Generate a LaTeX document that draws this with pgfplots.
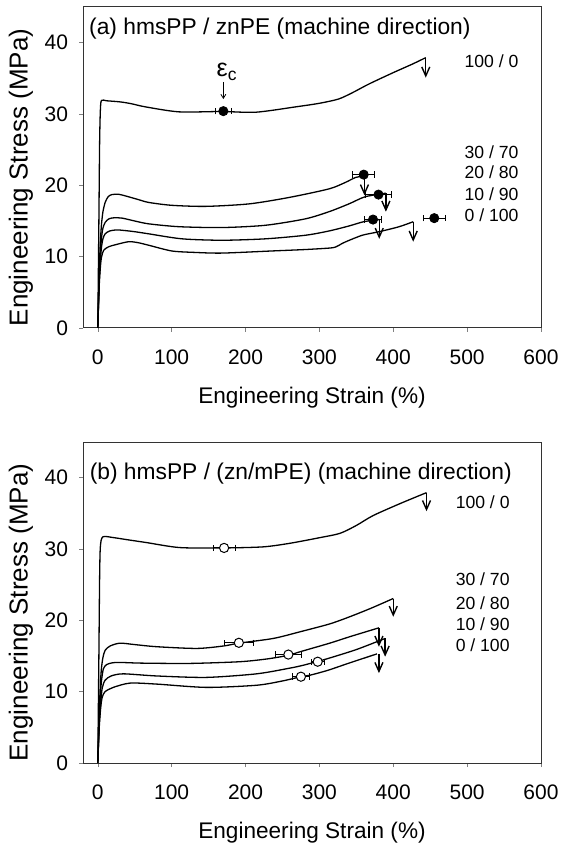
\documentclass[border=0pt]{standalone}
\usepackage{fontspec}
\setmainfont{Liberation Sans}
\usepackage{pgfplots}
\pgfplotsset{compat=1.18}
\usetikzlibrary{arrows.meta}

\pgfplotsset{
  ssplot/.style={
    scale only axis, width=229pt, height=160.5pt,
    xmin=-20, xmax=600, ymin=0, ymax=45,
    xtick={0,100,...,600}, ytick={0,10,...,40},
    tick align=outside, xtick pos=bottom, ytick pos=left,
    major tick length=2pt,
    axis line style={black!80, line width=0.5pt},
    /pgf/number format/assume math mode=true,
    tick label style={font=\fontsize{10.5}{12}\selectfont},
    xticklabel style={yshift=-5.5pt},
    yticklabel style={xshift=-2pt},
    xlabel={Engineering Strain (\%)}, ylabel={Engineering Stress (MPa)},
    xlabel style={font=\fontsize{11.3}{13}\selectfont,
      at={(axis description cs:0.5,0)}, anchor=center, yshift=-35pt},
    % the y label is rotated: yshift moves it left, xshift moves it down
    ylabel style={font=\fontsize{13}{15}\selectfont,
      at={(axis description cs:0,0.5)}, anchor=center, yshift=31pt, xshift=-5pt},
    clip=false,
  },
  curve/.style={black, line width=0.65pt, no markers, smooth, tension=0.45},
  dots/.style={only marks, mark=*, mark size=2.3pt,
    error bars/x dir=both, error bars/x explicit,
    error bars/error bar style={line width=0.5pt},
    error bars/error mark options={rotate=90, mark size=1.6pt, line width=0.5pt}},
}
\tikzset{
  brk/.style={-{Straight Barb[length=4.5pt,width=4pt,line width=0.7pt]}, line width=0.7pt},
  lab/.style={anchor=east, inner sep=0pt, font=\fontsize{8.8}{10}\selectfont},
}

\begin{document}
\begin{tikzpicture}
\useasboundingbox (0,0) rectangle (281pt,422pt);

% ---------- (a) hmsPP / znPE ----------
\begin{axis}[ssplot, at={(41.5pt,258pt)}, anchor=south west]
% 100/0
\addplot[curve] coordinates {
(0,0)(1.5,15)(2.5,26)(3.5,30.5)(5,31.9)(12,31.85)(30,31.7)(45,31.45)(64.5,31.0)
(110,30.3)(168,30.35)(214,30.25)(268,31.0)(300,31.5)(326,32.1)(345,33.0)
(367,34.2)(400,35.8)(426,37.0)(444,37.9)};
% 30/70
\addplot[curve] coordinates {
(0,0)(2,8)(3.5,12)(5,14.5)(7,16.3)(10,17.6)(14,18.4)(19,18.7)(28,18.75)
(38,18.5)(55,18.0)(69,17.6)(100,17.2)(146,17.05)(205,17.4)(259,18.3)
(313,19.5)(335,20.4)(349,21.1)(361,21.3)};
% 20/80
\addplot[curve] coordinates {
(0,0)(2,7)(3.5,10.5)(5,12.6)(7,14.0)(10,14.8)(15,15.3)(22,15.45)(33,15.4)
(50,15.0)(69,14.6)(110,14.2)(168,14.08)(227,14.4)(281,15.3)(313,16.3)
(340,17.4)(362,18.4)(390,18.9)};
% 10/90
\addplot[curve] coordinates {
(0,0)(2,6.5)(3.5,9.5)(5,11.3)(7,12.5)(10,13.2)(16,13.6)(25,13.75)(33,13.7)
(50,13.5)(69,13.2)(114,12.5)(168,12.3)(227,12.5)(281,13.0)(313,13.6)
(340,14.3)(360,14.9)(381,15.2)};
% 0/100
\addplot[curve] coordinates {
(0,0)(2,6)(3.5,8.5)(5,9.9)(8,10.9)(15,11.4)(25,11.7)(42,12.1)(55,11.95)
(69,11.6)(100,10.8)(130,10.6)(168,10.5)(236,10.8)(281,11.0)(313,11.2)
(322,11.35)(330,11.8)(336,12.1)(358,13.0)(381,13.5)(408,14.2)(427,14.9)};
% break arrows
\draw[brk] (axis cs:444,37.9) -- (axis cs:444,35.1);
\draw[brk] (axis cs:361,21.2) -- (axis cs:361,18.6);
\draw[brk] (axis cs:390,18.9) -- (axis cs:390,16.3);
\draw[brk] (axis cs:381,15.2) -- (axis cs:381,12.5);
\draw[brk] (axis cs:427,14.9) -- (axis cs:427,12.1);
% critical strain
\addplot[dots] table[x=x, y=y, x error=e] {
x y e
170 30.4 11
360 21.5 15
380 18.7 17.6
372.6 15.2 12
455.5 15.4 15
};
\draw[-{Straight Barb[length=2pt,width=2.5pt]}, line width=0.4pt]
  (axis cs:170,34.5) -- (axis cs:170,32.1);
\node at (axis cs:175,35.9) {\fontsize{12.5}{14}\selectfont ε\textsubscript{c}};
\node[anchor=west, inner sep=0pt, font=\fontsize{11.4}{13}\selectfont]
  at (axis cs:-12.2,42.0) {(a) hmsPP / znPE (machine direction)};
\node[lab] at (axis cs:570,37.4) {100 / 0};
\node[lab] at (axis cs:570,24.66) {30 / 70};
\node[lab] at (axis cs:570,21.86) {20 / 80};
\node[lab] at (axis cs:570,18.7) {10 / 90};
\node[lab] at (axis cs:570,15.8) {0 / 100};
\end{axis}

% ---------- (b) hmsPP / (zn/mPE) ----------
\begin{axis}[ssplot, at={(41.5pt,40.5pt)}, anchor=south west]
% 100/0
\addplot[curve] coordinates {
(0,0)(1.5,15)(2.5,26)(3.5,30.3)(6.8,31.7)(21,31.6)(40,31.3)(66,30.9)
(111,30.2)(171,30.15)(224,30.3)(260,30.8)(301,31.6)(328,32.2)(350,33.3)
(373,34.7)(410,36.4)(445,37.9)};
% 30/70
\addplot[curve] coordinates {
(0,0)(2,7)(3.5,11)(5,13.3)(7,14.8)(10,15.8)(16.6,16.4)(30,16.8)(50,16.6)
(80,16.3)(134,16.06)(170,16.4)(191,16.8)(237.6,17.46)(274,18.4)(314,19.5)
(341,20.5)(370,21.7)(400,23.06)};
% 20/80
\addplot[curve] coordinates {
(0,0)(2,6)(3.5,9.5)(5,11.5)(7.6,13.2)(12,13.8)(20,14.05)(30,14.1)(60,14.0)
(125,13.96)(192.6,14.2)(230,14.6)(258,15.1)(274,15.6)(314,16.8)(341,17.7)
(380.6,18.95)};
% 10/90
\addplot[curve] coordinates {
(0,0)(2,5.5)(4,8.5)(6,10.5)(9.9,11.6)(18,12.2)(34.6,12.5)(80,12.2)(147,12.0)
(215,12.5)(260,13.3)(278,13.7)(298,14.25)(312,14.66)(350,15.9)(389,17.46)};
% 0/100
\addplot[curve] coordinates {
(0,0)(2,5)(4,7.8)(6,9.2)(9.9,10.0)(21,10.6)(43.7,11.2)(80,11.06)(147,10.6)
(215,10.9)(250,11.5)(275,12.1)(287,12.3)(311.6,13.0)(340,14.0)(378,15.3)};
% break arrows
\draw[brk] (axis cs:445,37.9) -- (axis cs:445,35.3);
\draw[brk] (axis cs:400,23.06) -- (axis cs:400,20.5);
\draw[brk] (axis cs:380.6,18.95) -- (axis cs:380.6,16.3);
\draw[brk] (axis cs:389,17.46) -- (axis cs:389,14.9);
\draw[brk] (axis cs:380.6,15.3) -- (axis cs:380.6,12.6);
% critical strain
\addplot[dots, mark options={fill=white, draw=black, line width=0.5pt}]
  table[x=x, y=y, x error=e] {
x y e
171 30.15 15
191 16.85 19.8
258 15.2 17.5
297.7 14.2 9
275 12.1 11.7
};
\node[anchor=west, inner sep=0pt, font=\fontsize{11.4}{13}\selectfont]
  at (axis cs:-11.4,40.6) {(b) hmsPP / (zn/mPE) (machine direction)};
\node[lab] at (axis cs:558,36.6) {100 / 0};
\node[lab] at (axis cs:558,25.7) {30 / 70};
\node[lab] at (axis cs:558,22.4) {20 / 80};
\node[lab] at (axis cs:558,19.5) {10 / 90};
\node[lab] at (axis cs:558,16.5) {0 / 100};
\end{axis}
\end{tikzpicture}
\end{document}
